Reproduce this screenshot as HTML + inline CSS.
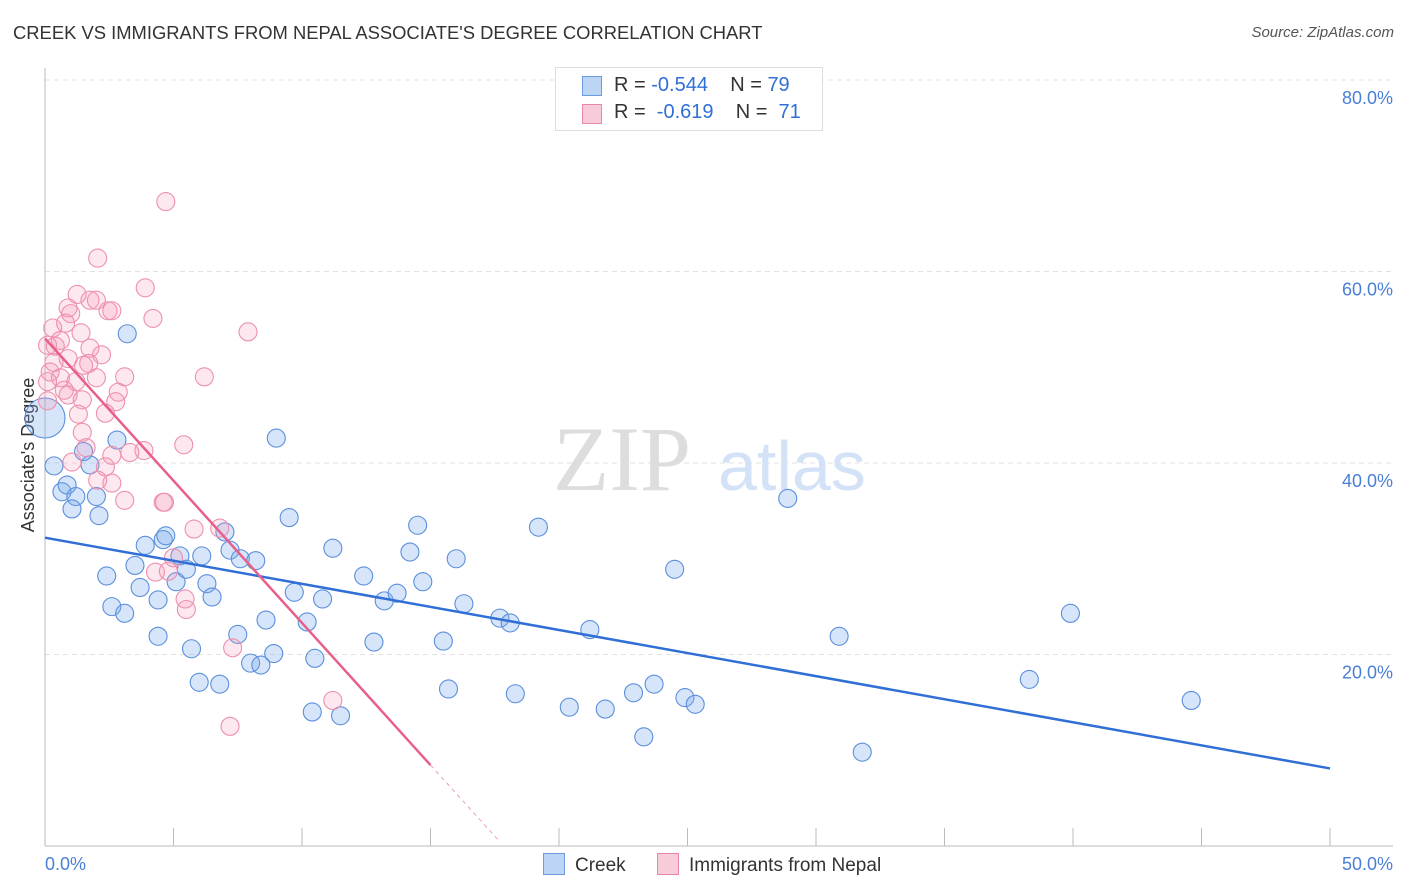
<!DOCTYPE html>
<html><head><meta charset="utf-8"><style>
body{margin:0;background:#fff;font-family:"Liberation Sans",sans-serif;}
#wrap{position:relative;width:1406px;height:892px;overflow:hidden}
.t{position:absolute;white-space:nowrap}
</style></head><body><div id="wrap">
<div class="t" style="left:13px;top:22px;font-size:18.4px;color:#333">CREEK VS IMMIGRANTS FROM NEPAL ASSOCIATE'S DEGREE CORRELATION CHART</div>
<div class="t" style="right:12px;top:24px;font-size:15px;color:#555;font-style:italic">Source: ZipAtlas.com</div>
<svg id="svg" width="1406" height="892" style="position:absolute;left:0;top:0"></svg>
</div>
<script>
const xTicks=[0,5,10,15,20,25,30,35,40,45,50];
const yTicks=[20,40,60,80];
const yTickLabels=["20.0%","40.0%","60.0%","80.0%"];
const creekX=[0,0.35,3.2,2.8,9.0,0.66,0.86,1.2,2.0,1.05,2.1,1.75,1.5,2.4,2.6,3.1,3.5,3.7,3.9,4.4,4.4,4.6,4.7,5.25,5.1,5.5,6.1,5.7,6.3,6.5,6.0,6.8,7.0,7.2,7.6,8.2,7.5,8.6,8.0,8.4,8.9,9.5,9.7,10.2,10.8,10.5,10.4,11.5,11.2,12.4,12.8,13.2,13.7,14.2,14.5,14.7,15.5,15.7,16.0,16.3,17.7,18.1,18.3,19.2,20.4,21.2,21.8,22.9,23.3,23.7,24.5,24.9,25.3,28.9,30.9,31.8,38.3,39.9,44.6];
const creekY=[44.7,39.7,53.5,42.4,42.6,37.0,37.7,36.5,36.5,35.2,34.5,39.8,41.2,28.2,25.0,24.3,29.3,27.0,31.4,25.7,21.9,32.0,32.4,30.3,27.6,28.9,30.3,20.6,27.4,26.0,17.1,16.9,32.8,30.9,30.0,29.8,22.1,23.6,19.1,18.9,20.1,34.3,26.5,23.4,25.8,19.6,14.0,13.6,31.1,28.2,21.3,25.6,26.4,30.7,33.5,27.6,21.4,16.4,30.0,25.3,23.8,23.3,15.9,33.3,14.5,22.6,14.3,16.0,11.4,16.9,28.9,15.5,14.8,36.3,21.9,9.8,17.4,24.3,15.2];
const nepalX=[4.7,2.05,3.9,1.25,1.75,2.0,0.9,1.0,2.45,2.6,4.2,0.8,0.3,7.9,1.4,0.6,0.1,0.4,1.75,2.2,0.9,1.7,0.35,0.2,1.5,0.6,1.2,2.0,3.1,6.2,0.75,0.9,2.85,2.75,1.45,2.35,1.3,1.45,1.6,5.4,3.85,2.6,3.3,1.05,2.35,2.05,2.6,3.1,4.6,4.65,5.8,6.8,5.0,4.3,4.8,5.45,5.5,7.3,11.2,7.2,0.1,0.1];
const nepalY=[67.3,61.4,58.3,57.6,57.0,57.0,56.2,55.6,55.9,55.9,55.1,54.6,54.1,53.7,53.6,52.8,52.3,52.2,52.0,51.3,50.9,50.4,50.5,49.5,50.2,48.9,48.5,48.9,49.0,49.0,47.6,47.1,47.4,46.4,46.6,45.2,45.1,43.2,41.6,41.9,41.3,40.8,41.1,40.1,39.6,38.2,37.9,36.1,35.9,35.9,33.1,33.2,30.1,28.6,28.7,25.8,24.7,20.7,15.2,12.5,46.5,48.5];
const creekTrend=[32.2,8.1];
const nepalTrend=[53.0,-2.97,15.0,17.7];
const X=v=>45+v/50*1285, Y=v=>846-v/20*191.5;
const svg=document.getElementById('svg');const NS='http://www.w3.org/2000/svg';
function mk(t,a,p){const e=document.createElementNS(NS,t);for(const k in a)e.setAttribute(k,a[k]);(p||svg).appendChild(e);return e;}
yTicks.forEach((t,i)=>{
 const g=mk('line',{x1:45,x2:1393,y1:Y(t),y2:Y(t),stroke:'#e2e2e2','stroke-dasharray':'5,4'});
 
 
 const tx=mk('text',{x:1393,y:Y(t)+24,'text-anchor':'end','font-size':18,fill:'#4a7fd6','font-family':'Liberation Sans'});tx.textContent=yTickLabels[i];
 
 
});
const ax=mk('line',{x1:45,x2:45,y1:68,y2:846,stroke:'#bbb'});


const bx=mk('line',{x1:45,x2:1393,y1:846,y2:846,stroke:'#bbb'});


xTicks.forEach(t=>{const l=mk('line',{x1:X(t),x2:X(t),y1:828,y2:846,stroke:'#bbb'});
 
 });
const x0=mk('text',{x:45,y:870,'font-size':18,fill:'#4a7fd6','font-family':'Liberation Sans'});x0.textContent='0.0%';


const x1=mk('text',{x:1393,y:870,'text-anchor':'end','font-size':18,fill:'#4a7fd6','font-family':'Liberation Sans'});x1.textContent='50.0%';


const yt=mk('text',{x:0,y:0,transform:'translate(34,455) rotate(-90)','text-anchor':'middle','font-size':18,fill:'#333','font-family':'Liberation Sans'});yt.textContent="Associate's Degree";


const w1=mk('text',{x:553,y:490,'font-size':92,fill:'#ddd','font-family':'Liberation Serif'});w1.textContent='ZIP';


const w2=mk('text',{x:718,y:490,'font-size':70,fill:'#d4e2f7','font-family':'Liberation Sans'});w2.textContent='atlas';


creekX.forEach((x,i)=>{const c=mk('circle',{cx:X(x),cy:Y(creekY[i]),r:i==0?20:9,fill:'rgba(120,170,235,0.3)',stroke:'#5b8fdc','stroke-width':1.1});
 
 });
nepalX.forEach((x,i)=>{const c=mk('circle',{cx:X(x),cy:Y(nepalY[i]),r:9,fill:'rgba(245,150,180,0.22)',stroke:'#ee90ad','stroke-width':1.1});
 
 });
const cl=mk('line',{x1:X(0),y1:Y(creekTrend[0]),x2:X(50),y2:Y(creekTrend[1]),stroke:'#2f6fd6','stroke-width':2.5});


const pf=v=>nepalTrend[0]+nepalTrend[1]*v;
const pl=mk('line',{x1:X(0),y1:Y(pf(0)),x2:X(nepalTrend[2]),y2:Y(pf(nepalTrend[2])),stroke:'#e8608a','stroke-width':2.5});


const pd=mk('line',{x1:X(nepalTrend[2]),y1:Y(pf(nepalTrend[2])),x2:X(nepalTrend[3]),y2:Y(pf(nepalTrend[3])),stroke:'#e8a0b8','stroke-width':1,'stroke-dasharray':'4,4'});


</script>
<div class="t" style="left:555px;top:67px;width:266px;height:62px;border:1px solid #ddd;background:#fff;font-size:20px;color:#333">
 <div style="position:absolute;left:26px;top:8px;width:18px;height:18px;background:#bcd5f5;border:1px solid #6d9be0"></div>
 <div style="position:absolute;left:58px;top:6px">R = <span style="color:#2f6fd6">-0.544</span>&nbsp;&nbsp;&nbsp; N = <span style="color:#2f6fd6">79</span></div>
 <div style="position:absolute;left:26px;top:36px;width:18px;height:18px;background:#f8cbd8;border:1px solid #ec86a6"></div>
 <div style="position:absolute;left:58px;top:33px">R = &nbsp;<span style="color:#2f6fd6">-0.619</span>&nbsp;&nbsp;&nbsp; N = &nbsp;<span style="color:#2f6fd6">71</span></div>
</div>
<div class="t" style="left:543px;top:853px;font-size:19px;color:#333"><span style="display:inline-block;width:20px;height:20px;background:#bcd5f5;border:1px solid #6d9be0;vertical-align:-4px;margin-right:10px"></span>Creek</div>
<div class="t" style="left:657px;top:853px;font-size:19px;color:#333"><span style="display:inline-block;width:20px;height:20px;background:#f8cbd8;border:1px solid #ec86a6;vertical-align:-4px;margin-right:10px"></span>Immigrants from Nepal</div>
</body></html>
